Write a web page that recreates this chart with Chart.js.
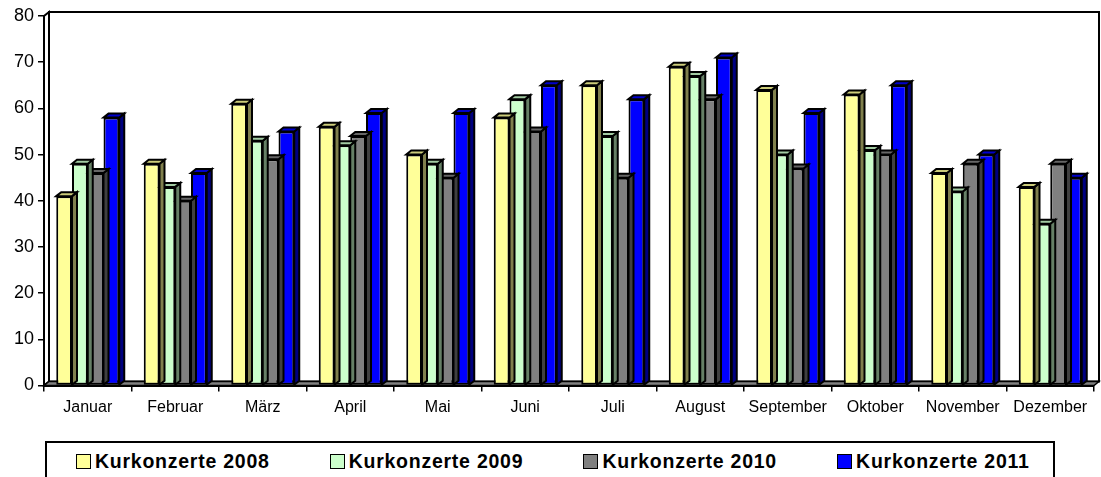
<!DOCTYPE html>
<html>
<head>
<meta charset="utf-8">
<script src="https://cdn.jsdelivr.net/npm/chart.js@4.4.1/dist/chart.umd.min.js"></script>
<style>
  body { margin: 0; background: #fff; font-family: "Liberation Sans", Arial, sans-serif; }
  #wrap { position: relative; width: 1101px; height: 477px; overflow: hidden; }
  #box { position: absolute; left: 0; top: 0; width: 1101px; height: 430px; }
  #legend {
    position: absolute; left: 45px; top: 441px; width: 1006px; height: 60px;
    border: 2px solid #000;
  }
  .item { position: absolute; top: 7px; display: flex; align-items: center; }
  .swatch { width: 13px; height: 13px; border: 1.5px solid #000; margin-right: 4px; }
  .label { font-weight: bold; font-size: 19.5px; color: #000; letter-spacing: 0.75px; }
</style>
</head>
<body>
<div id="wrap">
  <div id="box"><canvas id="chart"></canvas></div>
  <div id="legend"></div>
</div>
<script>
// data
const months = ['Januar', 'Februar', 'März', 'April', 'Mai', 'Juni', 'Juli', 'August', 'September', 'Oktober', 'November', 'Dezember'];
const seriesLabels = ['Kurkonzerte 2008', 'Kurkonzerte 2009', 'Kurkonzerte 2010', 'Kurkonzerte 2011'];
const values2008 = [41, 48, 61, 56, 50, 58, 65, 69, 64, 63, 46, 43];
const values2009 = [48, 43, 53, 52, 48, 62, 54, 67, 50, 51, 42, 35];
const values2010 = [46, 40, 49, 54, 45, 55, 45, 62, 47, 50, 48, 48];
const values2011 = [58, 46, 55, 59, 59, 65, 62, 71, 59, 65, 50, 45];
const yMin = 0, yMax = 80, yStep = 10;

// front / top / side shades
const frontColors = ['#FFFF99', '#CCFFCC', '#808080', '#0000FF'];
const topColors = ['#CCCC7A', '#A3CCA3', '#666666', '#0000CC'];
const sideColors = ['#80804D', '#668066', '#404040', '#000080'];

const DX = 5, DY = 4;

function poly(ctx, pts, fill) {
  ctx.beginPath();
  ctx.moveTo(pts[0][0], pts[0][1]);
  for (let i = 1; i < pts.length; i++) ctx.lineTo(pts[i][0], pts[i][1]);
  ctx.closePath();
  if (fill) { ctx.fillStyle = fill; ctx.fill(); }
  ctx.stroke();
}

const threeD = {
  id: 'threeD',
  beforeDatasetsDraw(chart) {
    const { ctx, chartArea: a } = chart;
    ctx.save();
    ctx.strokeStyle = '#000';
    ctx.lineWidth = 2;
    // back wall
    poly(ctx, [[a.left + DX, a.top - DY], [a.right + DX, a.top - DY], [a.right + DX, a.bottom - DY], [a.left + DX, a.bottom - DY]], '#fff');
    // left wall
    poly(ctx, [[a.left, a.bottom], [a.left, a.top], [a.left + DX, a.top - DY], [a.left + DX, a.bottom - DY]], '#fff');
    // floor
    ctx.lineWidth = 1.5;
    poly(ctx, [[a.left, a.bottom], [a.right, a.bottom], [a.right + DX, a.bottom - DY], [a.left + DX, a.bottom - DY]], '#808080');
    ctx.restore();
  },
  beforeDatasetDraw(chart, args) {
    const ctx = chart.ctx;
    const i = args.index;
    ctx.save();
    ctx.strokeStyle = '#000';
    ctx.lineWidth = 2;
    ctx.lineJoin = 'miter';
    args.meta.data.forEach(el => {
      const x0 = el.x - el.width / 2, x1 = el.x + el.width / 2;
      const yt = el.y, yb = el.base;
      poly(ctx, [[x1, yt], [x1 + DX, yt - DY], [x1 + DX, yb - DY], [x1, yb]], sideColors[i]);
      poly(ctx, [[x0, yt], [x0 + DX, yt - DY], [x1 + DX, yt - DY], [x1, yt]], topColors[i]);
    });
    ctx.restore();
  }
};

const allValues = [values2008, values2009, values2010, values2011];

new Chart(document.getElementById('chart'), {
  type: 'bar',
  data: {
    labels: months,
    datasets: allValues.map((vals, i) => ({
      label: seriesLabels[i],
      data: vals,
      backgroundColor: frontColors[i],
      borderColor: '#000',
      borderWidth: 2,
      borderSkipped: false,
      categoryPercentage: 0.72,
      barPercentage: 1
    }))
  },
  options: {
    responsive: true,
    maintainAspectRatio: false,
    animation: false,
    layout: { padding: { top: 16, right: 7, left: 0, bottom: 0 } },
    plugins: { legend: { display: false }, tooltip: { enabled: false } },
    scales: {
      x: {
        afterFit: s => { s.height = 44.5; },
        grid: { drawOnChartArea: false, drawTicks: true, tickLength: 6, color: '#000', lineWidth: 1.5, offset: true },
        border: { display: true, color: '#000', width: 2 },
        ticks: { color: '#000', font: { family: '"Liberation Sans", Arial', size: 16 }, padding: 6, maxRotation: 0, autoSkip: false }
      },
      y: {
        min: yMin,
        max: yMax,
        afterFit: s => { s.width = 44; },
        grid: { drawOnChartArea: false, drawTicks: true, tickLength: 6, color: '#000', lineWidth: 1.5 },
        border: { display: true, color: '#000', width: 2 },
        ticks: { stepSize: yStep, color: '#000', font: { family: '"Liberation Sans", Arial', size: 18 }, padding: 4 }
      }
    }
  },
  plugins: [threeD]
});

// legend below the chart
const legend = document.getElementById('legend');
seriesLabels.forEach((name, i) => {
  const item = document.createElement('div');
  item.className = 'item';
  item.style.left = (29 + i * 253.7) + 'px';
  item.innerHTML = '<span class="swatch" style="background:' + frontColors[i] + '"></span><span class="label">' + name + '</span>';
  legend.appendChild(item);
});
</script>
</body>
</html>
